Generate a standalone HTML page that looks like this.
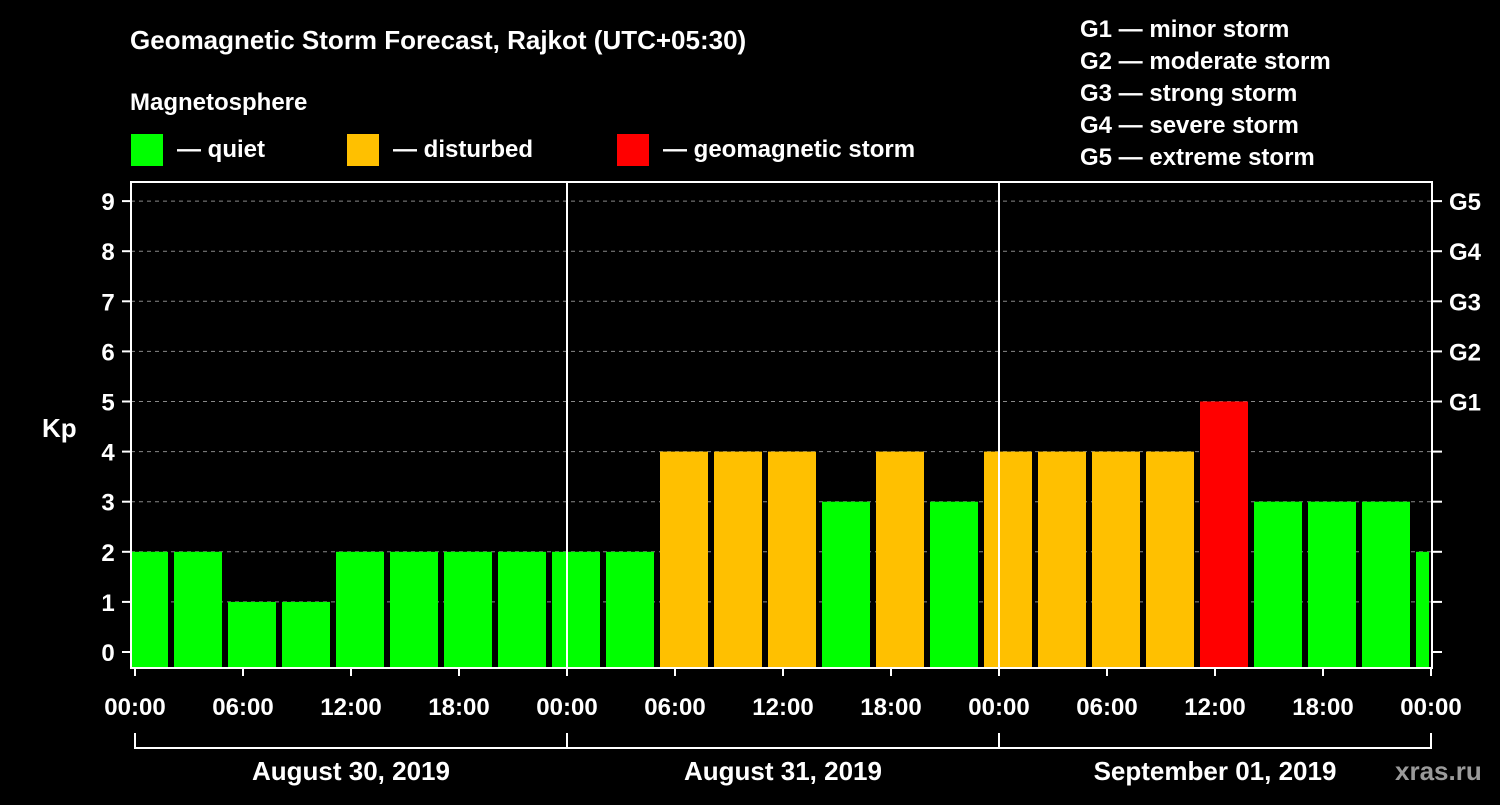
<!DOCTYPE html>
<html><head><meta charset="utf-8"><style>
body{margin:0;background:#000;width:1500px;height:800px;overflow:hidden;font-family:"Liberation Sans",sans-serif}
svg text{font-family:"Liberation Sans",sans-serif;font-weight:bold;fill:#fff}
</style></head><body>
<svg id="c" width="1500" height="800">
<text x="130" y="49" font-size="26">Geomagnetic Storm Forecast, Rajkot (UTC+05:30)</text>
<text x="130" y="110" font-size="24">Magnetosphere</text>
<g><rect x="131" y="134" width="32" height="32" fill="#00ff00"/><text x="177" y="157" font-size="24">— quiet</text></g>
<g><rect x="347" y="134" width="32" height="32" fill="#ffc000"/><text x="393" y="157" font-size="24">— disturbed</text></g>
<g><rect x="617" y="134" width="32" height="32" fill="#ff0000"/><text x="663" y="157" font-size="24">— geomagnetic storm</text></g>
<g font-size="24">
<text x="1080" y="37">G1 — minor storm</text><text x="1080" y="69">G2 — moderate storm</text><text x="1080" y="101">G3 — strong storm</text><text x="1080" y="133">G4 — severe storm</text><text x="1080" y="165">G5 — extreme storm</text></g>
<text x="42" y="437" font-size="26">Kp</text>
<text x="1395" y="780" font-size="26" fill="#bbb" style="fill:#9a9a9a">xras.ru</text>
<g id="g"></g>
</svg>
<script>
const kpValues=[2,2,1,1,2,2,2,2,2,2,4,4,4,3,4,3,4,4,4,4,5,3,3,3,2];
const yTicks=[0,1,2,3,4,5,6,7,8,9];
const gLabels=["G1","G2","G3","G4","G5"];
const timeLabels=["00:00","06:00","12:00","18:00","00:00","06:00","12:00","18:00","00:00","06:00","12:00","18:00","00:00"];
const dayLabels=["August 30, 2019","August 31, 2019","September 01, 2019"];
const firstPeriodStartHour=-1;
const NS="http://www.w3.org/2000/svg",g=document.getElementById('g');
const X0=135,PXH=18,Y0=652,PXU=50.1,L=131,R=1432,T=182,B=668;
const x=h=>X0+h*PXH, y=v=>Y0-v*PXU;
function mk(t,a,txt){const e=document.createElementNS(NS,t);for(const k in a)e.setAttribute(k,a[k]);if(txt!=null)e.textContent=txt;g.appendChild(e);return e;}
yTicks.forEach(v=>{
 if(v>0){const l=mk('line',{x1:L,x2:R,y1:y(v),y2:y(v),stroke:'#888','stroke-dasharray':'4 4'});
 
 }
 mk('line',{x1:122,x2:L,y1:y(v),y2:y(v),stroke:'#fff','stroke-width':2});
 mk('line',{x1:R,x2:1442,y1:y(v),y2:y(v),stroke:'#fff','stroke-width':2});
 const t=mk('text',{x:108,y:y(v)+9,'font-size':24,'text-anchor':'middle'},v);
 
 
});
gLabels.forEach((s,i)=>{const t=mk('text',{x:1449,y:y(5+i)+9,'font-size':24},s);
 
 });
kpValues.forEach((v,i)=>{
 const h=firstPeriodStartHour+i*3;
 const x1=Math.max(x(h)+3,L+1),x2=Math.min(x(h+3)-3,R-3);
 const c=v>=5?'#ff0000':v>=4?'#ffc000':'#00ff00';
 const r=mk('rect',{x:x1,y:y(v),width:x2-x1,height:B-y(v),fill:c});
 
 
});
[24,48].forEach(h=>mk('line',{x1:x(h),x2:x(h),y1:T,y2:B,stroke:'#fff','stroke-width':2}));
const fr=mk('rect',{x:L,y:T,width:R-L,height:B-T,fill:'none',stroke:'#fff','stroke-width':2});


timeLabels.forEach((s,i)=>{const h=i*6;
 mk('line',{x1:x(h),x2:x(h),y1:B,y2:676,stroke:'#fff','stroke-width':2});
 const t=mk('text',{x:x(h),y:715,'font-size':24,'text-anchor':'middle'},s);
 
 });
mk('line',{x1:x(0),x2:x(72),y1:748,y2:748,stroke:'#fff','stroke-width':2});
[0,24,48,72].forEach(h=>mk('line',{x1:x(h),x2:x(h),y1:733,y2:749,stroke:'#fff','stroke-width':2}));
dayLabels.forEach((s,i)=>{const t=mk('text',{x:x(i*24+12),y:780,'font-size':26,'text-anchor':'middle'},s);
 
 });
</script>
</body></html>
